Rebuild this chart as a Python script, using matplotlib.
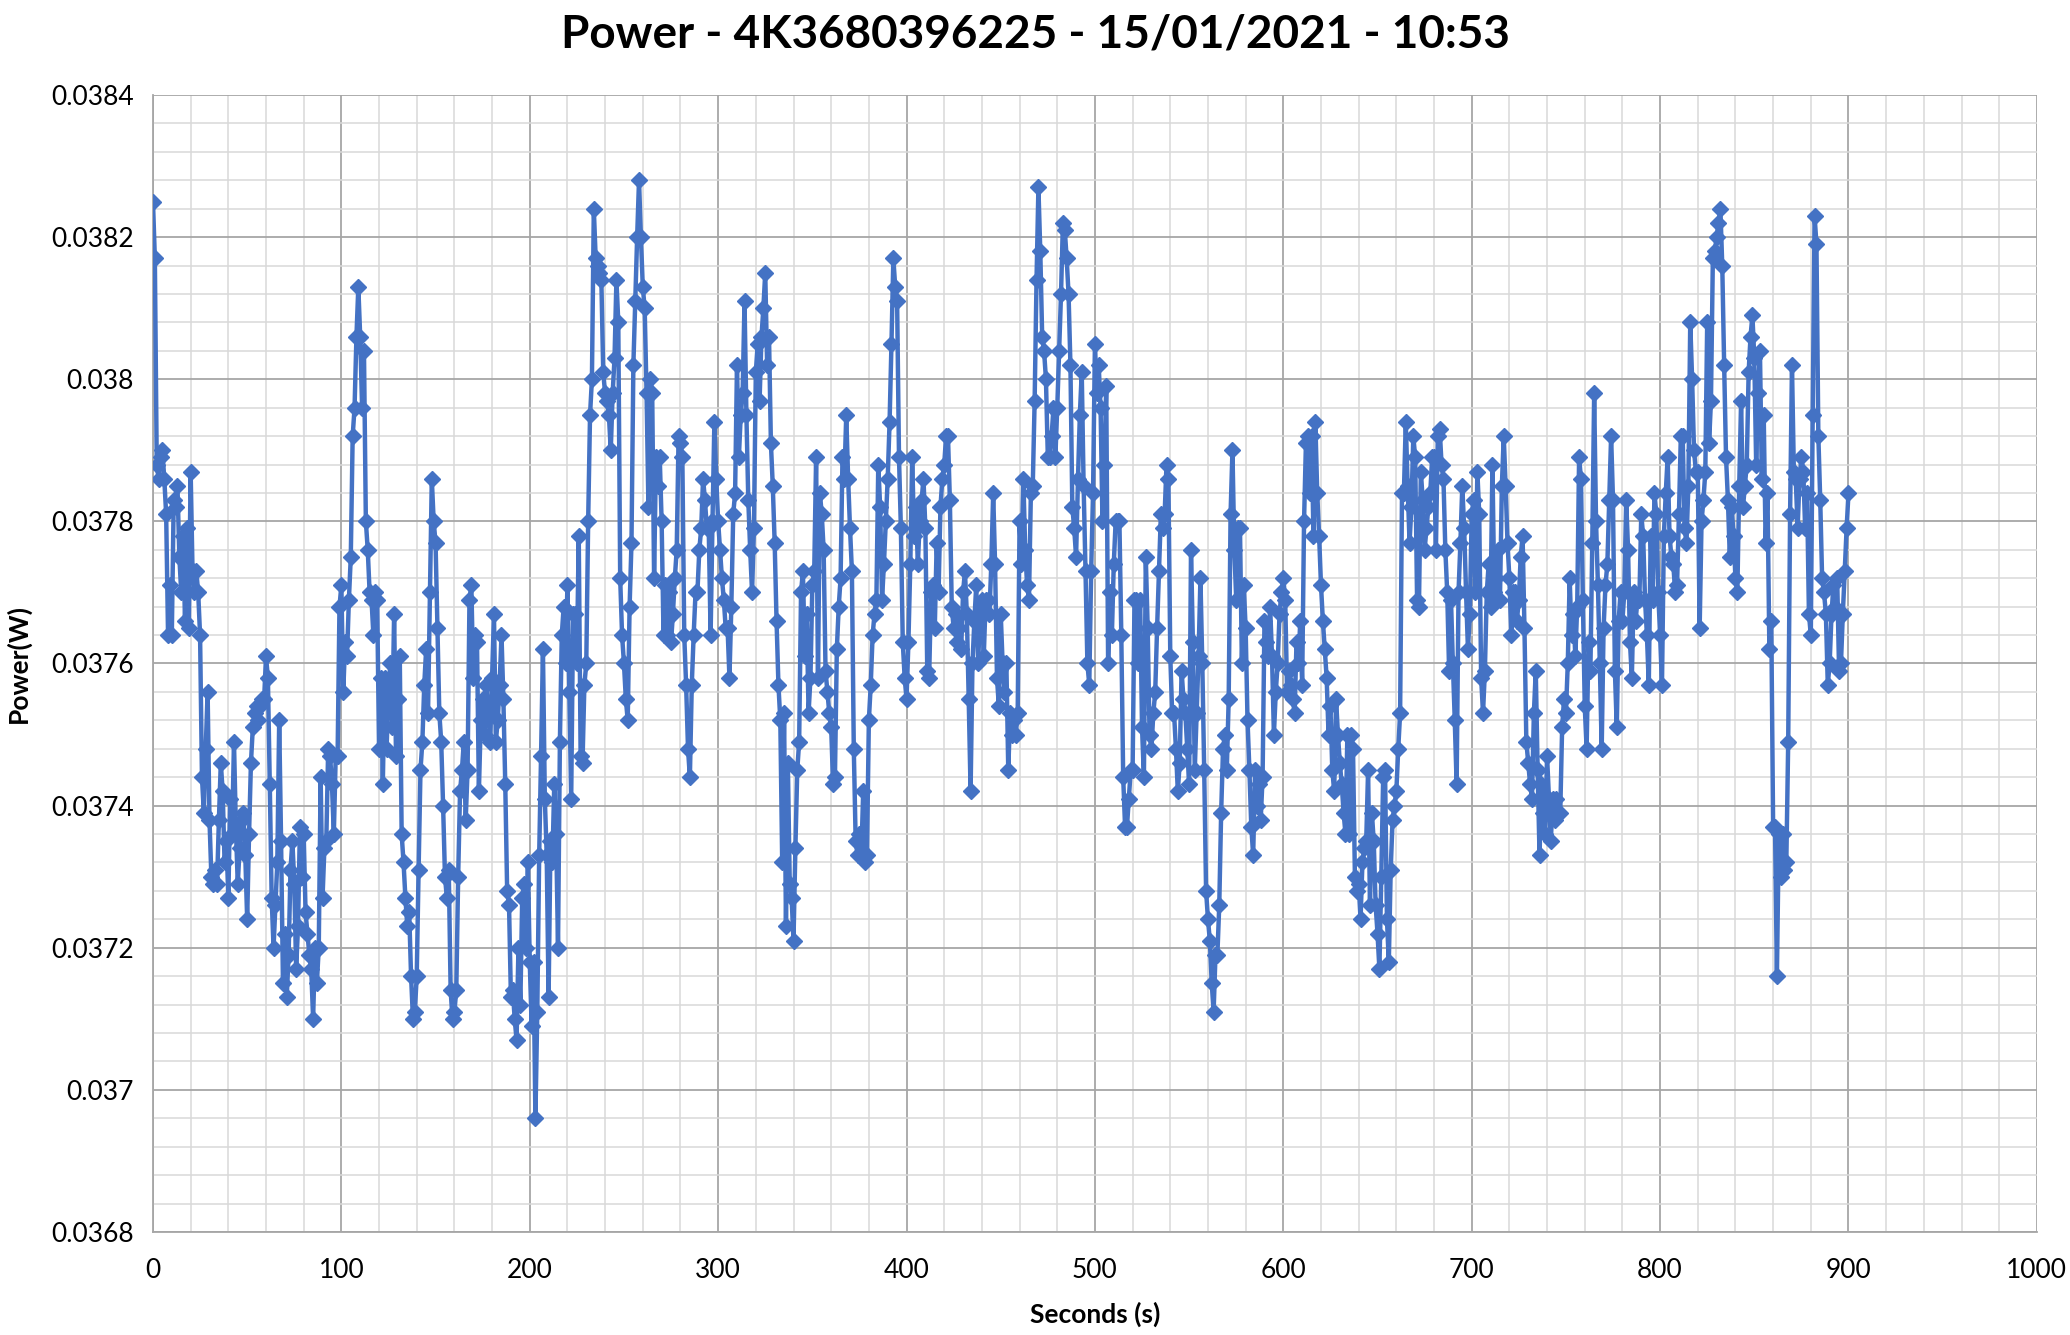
import matplotlib
matplotlib.use("Agg")
import matplotlib.pyplot as plt
from matplotlib.ticker import MultipleLocator, FuncFormatter
import numpy as np

title = "Power - 4K3680396225 - 15/01/2021 - 10:53"
x_label = "Seconds (s)"
y_label = "Power(W)"

# power, one value per second (t = 0..900), in mW
power_mw = [
    38.25, 38.17, 37.88, 37.86, 37.89, 37.90, 37.86, 37.81, 37.64, 37.71, 37.64, 37.83, 37.82, 37.85, 37.75, 37.70, 37.78, 37.66, 37.79, 37.65,
    37.87, 37.73, 37.70, 37.73, 37.70, 37.64, 37.44, 37.39, 37.48, 37.56, 37.38, 37.30, 37.29, 37.31, 37.29, 37.38, 37.46, 37.42, 37.32, 37.35,
    37.27, 37.41, 37.36, 37.49, 37.37, 37.29, 37.34, 37.38, 37.39, 37.33, 37.24, 37.36, 37.46, 37.51, 37.53, 37.54, 37.52, 37.54, 37.55, 37.55,
    37.61, 37.58, 37.43, 37.27, 37.20, 37.26, 37.32, 37.52, 37.35, 37.15, 37.22, 37.13, 37.19, 37.31, 37.35, 37.29, 37.17, 37.23, 37.37, 37.30,
    37.36, 37.25, 37.22, 37.19, 37.17, 37.10, 37.20, 37.15, 37.20, 37.44, 37.27, 37.34, 37.35, 37.48, 37.47, 37.43, 37.36, 37.47, 37.47, 37.68,
    37.71, 37.56, 37.63, 37.61, 37.69, 37.75, 37.92, 37.96, 38.06, 38.13, 38.06, 37.96, 38.04, 37.80, 37.76, 37.70, 37.69, 37.64, 37.70, 37.69,
    37.48, 37.58, 37.43, 37.58, 37.48, 37.56, 37.60, 37.51, 37.67, 37.47, 37.55, 37.61, 37.36, 37.32, 37.27, 37.23, 37.25, 37.16, 37.10, 37.11,
    37.16, 37.31, 37.45, 37.49, 37.57, 37.62, 37.53, 37.70, 37.86, 37.80, 37.77, 37.65, 37.53, 37.49, 37.40, 37.30, 37.27, 37.31, 37.14, 37.10,
    37.11, 37.14, 37.30, 37.42, 37.45, 37.49, 37.38, 37.45, 37.69, 37.71, 37.58, 37.64, 37.63, 37.42, 37.52, 37.55, 37.50, 37.57, 37.53, 37.49,
    37.58, 37.67, 37.49, 37.52, 37.57, 37.64, 37.55, 37.43, 37.28, 37.26, 37.13, 37.14, 37.10, 37.07, 37.20, 37.12, 37.27, 37.29, 37.20, 37.32,
    37.18, 37.09, 37.18, 36.96, 37.11, 37.33, 37.47, 37.62, 37.41, 37.33, 37.13, 37.35, 37.32, 37.43, 37.36, 37.20, 37.49, 37.64, 37.68, 37.60,
    37.71, 37.56, 37.41, 37.67, 37.67, 37.60, 37.78, 37.47, 37.46, 37.57, 37.60, 37.80, 37.95, 38.00, 38.24, 38.17, 38.16, 38.15, 38.14, 38.01,
    37.98, 37.97, 37.95, 37.90, 37.98, 38.03, 38.14, 38.08, 37.72, 37.64, 37.60, 37.55, 37.52, 37.68, 37.77, 38.02, 38.11, 38.20, 38.28, 38.20,
    38.13, 38.10, 37.98, 37.82, 38.00, 37.98, 37.72, 37.89, 37.85, 37.89, 37.80, 37.64, 37.71, 37.64, 37.70, 37.63, 37.67, 37.72, 37.76, 37.92,
    37.91, 37.89, 37.64, 37.57, 37.48, 37.44, 37.57, 37.64, 37.70, 37.70, 37.76, 37.79, 37.86, 37.83, 37.79, 37.79, 37.64, 37.80, 37.94, 37.86,
    37.80, 37.76, 37.72, 37.69, 37.65, 37.65, 37.58, 37.68, 37.81, 37.84, 38.02, 37.89, 37.95, 37.98, 38.11, 37.95, 37.83, 37.76, 37.70, 37.79,
    38.01, 38.05, 37.97, 38.06, 38.10, 38.15, 38.02, 38.06, 37.91, 37.85, 37.77, 37.66, 37.57, 37.52, 37.32, 37.53, 37.23, 37.46, 37.29, 37.27,
    37.21, 37.34, 37.45, 37.49, 37.70, 37.73, 37.61, 37.67, 37.53, 37.58, 37.71, 37.73, 37.89, 37.58, 37.84, 37.81, 37.76, 37.59, 37.56, 37.53,
    37.51, 37.43, 37.44, 37.62, 37.68, 37.72, 37.89, 37.86, 37.95, 37.86, 37.79, 37.73, 37.48, 37.35, 37.33, 37.36, 37.33, 37.42, 37.32, 37.33,
    37.52, 37.57, 37.64, 37.67, 37.69, 37.88, 37.82, 37.69, 37.74, 37.80, 37.86, 37.94, 38.05, 38.17, 38.13, 38.11, 37.89, 37.79, 37.63, 37.58,
    37.55, 37.63, 37.74, 37.89, 37.78, 37.82, 37.74, 37.80, 37.83, 37.86, 37.79, 37.59, 37.58, 37.70, 37.71, 37.65, 37.77, 37.70, 37.82, 37.86,
    37.88, 37.92, 37.92, 37.83, 37.68, 37.65, 37.67, 37.63, 37.65, 37.62, 37.70, 37.73, 37.67, 37.55, 37.42, 37.60, 37.66, 37.71, 37.60, 37.67,
    37.69, 37.61, 37.69, 37.69, 37.67, 37.74, 37.84, 37.74, 37.58, 37.54, 37.67, 37.60, 37.56, 37.60, 37.45, 37.53, 37.50, 37.52, 37.50, 37.53,
    37.80, 37.74, 37.86, 37.76, 37.71, 37.69, 37.84, 37.85, 37.97, 38.14, 38.27, 38.18, 38.06, 38.04, 38.00, 37.89, 37.89, 37.92, 37.96, 37.89,
    37.96, 38.04, 38.12, 38.22, 38.21, 38.17, 38.12, 38.02, 37.82, 37.79, 37.75, 37.86, 37.95, 38.01, 37.85, 37.73, 37.60, 37.57, 37.73, 37.84,
    38.05, 37.98, 38.02, 37.96, 37.80, 37.88, 37.99, 37.60, 37.70, 37.64, 37.74, 37.80, 37.80, 37.80, 37.64, 37.44, 37.37, 37.37, 37.41, 37.45,
    37.45, 37.69, 37.69, 37.60, 37.69, 37.51, 37.44, 37.75, 37.65, 37.50, 37.48, 37.53, 37.56, 37.65, 37.73, 37.81, 37.79, 37.81, 37.88, 37.86,
    37.61, 37.53, 37.53, 37.48, 37.42, 37.46, 37.59, 37.55, 37.53, 37.48, 37.43, 37.76, 37.63, 37.45, 37.53, 37.61, 37.72, 37.60, 37.45, 37.28,
    37.24, 37.21, 37.15, 37.11, 37.19, 37.19, 37.26, 37.39, 37.48, 37.50, 37.45, 37.55, 37.81, 37.90, 37.76, 37.69, 37.79, 37.79, 37.60, 37.71,
    37.65, 37.52, 37.45, 37.37, 37.33, 37.45, 37.40, 37.43, 37.38, 37.44, 37.66, 37.63, 37.61, 37.68, 37.61, 37.50, 37.56, 37.60, 37.67, 37.70,
    37.72, 37.69, 37.56, 37.59, 37.57, 37.55, 37.53, 37.63, 37.60, 37.66, 37.57, 37.80, 37.91, 37.92, 37.84, 37.92, 37.78, 37.94, 37.84, 37.78,
    37.71, 37.66, 37.62, 37.58, 37.50, 37.54, 37.45, 37.42, 37.55, 37.50, 37.46, 37.43, 37.39, 37.36, 37.50, 37.36, 37.50, 37.48, 37.30, 37.28,
    37.29, 37.24, 37.32, 37.34, 37.35, 37.45, 37.26, 37.39, 37.35, 37.26, 37.22, 37.17, 37.30, 37.44, 37.45, 37.24, 37.18, 37.31, 37.38, 37.40,
    37.42, 37.48, 37.53, 37.84, 37.84, 37.94, 37.85, 37.77, 37.82, 37.92, 37.89, 37.69, 37.68, 37.87, 37.83, 37.76, 37.79, 37.82, 37.84, 37.89,
    37.89, 37.76, 37.92, 37.93, 37.88, 37.86, 37.76, 37.70, 37.59, 37.69, 37.60, 37.52, 37.43, 37.70, 37.77, 37.85, 37.79, 37.70, 37.62, 37.67,
    37.81, 37.83, 37.70, 37.87, 37.81, 37.58, 37.53, 37.59, 37.70, 37.74, 37.68, 37.88, 37.70, 37.72, 37.76, 37.69, 37.85, 37.92, 37.85, 37.77,
    37.72, 37.64, 37.70, 37.70, 37.66, 37.69, 37.75, 37.78, 37.65, 37.49, 37.46, 37.43, 37.41, 37.53, 37.59, 37.45, 37.33, 37.43, 37.39, 37.36,
    37.47, 37.41, 37.35, 37.41, 37.38, 37.41, 37.39, 37.39, 37.51, 37.55, 37.53, 37.60, 37.72, 37.64, 37.67, 37.61, 37.68, 37.89, 37.86, 37.69,
    37.54, 37.48, 37.63, 37.59, 37.77, 37.98, 37.80, 37.71, 37.60, 37.48, 37.65, 37.71, 37.74, 37.83, 37.92, 37.83, 37.59, 37.51, 37.66, 37.70,
    37.66, 37.70, 37.83, 37.76, 37.63, 37.58, 37.70, 37.66, 37.69, 37.69, 37.81, 37.78, 37.69, 37.64, 37.57, 37.78, 37.69, 37.84, 37.81, 37.70,
    37.64, 37.57, 37.78, 37.84, 37.89, 37.78, 37.75, 37.74, 37.70, 37.71, 37.81, 37.92, 37.92, 37.79, 37.77, 37.85, 38.08, 38.00, 37.90, 37.87,
    37.87, 37.65, 37.80, 37.83, 37.87, 38.08, 37.91, 37.97, 38.17, 38.18, 38.20, 38.22, 38.24, 38.16, 38.02, 37.89, 37.83, 37.75, 37.82, 37.78,
    37.72, 37.70, 37.85, 37.97, 37.82, 37.85, 37.88, 38.01, 38.06, 38.09, 38.03, 37.88, 37.98, 38.04, 37.86, 37.95, 37.77, 37.84, 37.62, 37.66,
    37.37, 37.37, 37.16, 37.36, 37.30, 37.36, 37.31, 37.32, 37.49, 37.81, 38.02, 37.87, 37.86, 37.79, 37.86, 37.89, 37.87, 37.79, 37.84, 37.67,
    37.64, 37.95, 38.23, 38.19, 37.92, 37.83, 37.72, 37.70, 37.67, 37.57, 37.60, 37.67, 37.71, 37.68, 37.72, 37.59, 37.60, 37.67, 37.73, 37.79,
    37.84,
]

seconds = np.arange(len(power_mw))
power = np.array(power_mw) / 1000.0

x_ticks = [0, 100, 200, 300, 400, 500, 600, 700, 800, 900, 1000]

font = ["Lato", "DejaVu Sans"]
plt.rcParams["font.family"] = font

fig = plt.figure(figsize=(20.7, 13.35), dpi=100)
ax = fig.add_axes([0.0739, 0.0772, 0.9101, 0.8516])

ax.plot(seconds, power, color="#4472C4", linewidth=3.2, marker="D",
        markersize=8, markerfacecolor="#4472C4", markeredgecolor="#4472C4",
        zorder=3)

ax.set_xlim(0, 1000)
ax.set_ylim(0.0368, 0.0384)
ax.set_xticks(x_ticks)
ax.xaxis.set_minor_locator(MultipleLocator(20))
ax.yaxis.set_major_locator(MultipleLocator(0.0002))
ax.yaxis.set_minor_locator(MultipleLocator(0.00004))
ax.yaxis.set_major_formatter(FuncFormatter(lambda v, p: ("%.4f" % v).rstrip("0")))

ax.grid(which="major", color="#a6a6a6", linewidth=1.3)
ax.grid(which="minor", color="#d9d9d9", linewidth=1.1)
ax.set_axisbelow(True)

for side in ["top", "right"]:
    ax.spines[side].set_visible(False)
for side in ["left", "bottom"]:
    ax.spines[side].set_color("#a6a6a6")
    ax.spines[side].set_linewidth(1.3)

ax.tick_params(which="both", length=0)
ax.tick_params(axis="x", labelsize=19, pad=19, colors="black")
ax.tick_params(axis="y", labelsize=19, pad=14, colors="black")

ax.set_xlabel(x_label, fontsize=19, fontweight="bold", labelpad=13)
ax.set_ylabel(y_label, fontsize=19, fontweight="bold", labelpad=14)
fig.suptitle(title, fontsize=33, fontweight="bold", y=0.99)

plt.savefig("out.png", dpi=100)
